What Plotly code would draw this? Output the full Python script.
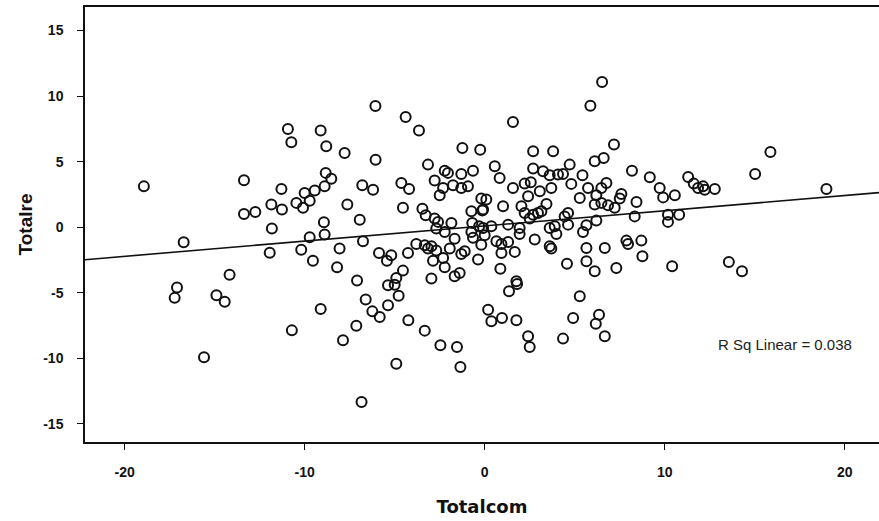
import plotly.graph_objects as go

# ---- data (Totalcom vs Totalre) ----
totalcom = [
    -6.07, -4.39, -10.93, -9.11, -3.65, -10.74, -8.8, -1.24, -0.25,
    6.52, 5.87, 1.57, 7.18,
    2.69, 3.80, 6.61, 6.11, 4.72, 0.56, 2.69, 3.24, 3.61, 4.07, 4.35, 5.43, 8.18, 9.17,
    0.83, 2.22, 2.56, 1.57, 3.7, 4.81, 5.74, 6.48, 6.76, 3.06, 9.72, 9.91, 10.56, 7.59,
    7.5, 6.2, 6.11, 6.48, 6.85, 7.22, 5.28, 8.43, 0.09, 1.02, 2.41, 2.04, 2.22, 2.69,
    2.96, 3.15, 3.43, 2.5, 4.63, 4.44, 4.63, 3.89, 3.61, 3.98, 5.65, 6.2, 5.46, 8.33,
    10.18, 10.18, 10.8, -0.09, 0.37, 1.3, 1.94, 1.94, -0.09, 0.0, -0.19, 0.65, 0.93,
    1.3, 0.93, 1.67, 2.78, 3.61, 3.7, 5.65, 6.67, 7.87, 7.96, 8.7, 8.76, 4.57, 5.65,
    6.11, 7.31, 10.41, 0.87, 1.76, 1.8, 1.35, 5.28,
    15.87, 15.02, 11.3, 11.61, 11.85, 12.13, 12.22, 12.78, 18.98, 13.56, 14.29,
    -18.93, -13.37, -11.29, -11.85, -11.26, -13.37, -12.74, -11.82, -16.72, -11.94,
    -14.17, -17.09, -17.22, -14.9, -14.44, -15.59,
    -9.11, -10.71, -7.87, -7.13, -6.61, -6.24, -5.83, -5.37, -4.78, -4.24, -3.33,
    -2.46, -1.54, -1.35, -4.91, -6.84,
    0.19, 0.37, 0.96, 1.76, 2.41, 2.5, 4.35, 4.91, 6.35, 6.17, 6.67,
    -7.78, -6.06, -3.15, -2.22, -2.04, -1.3, -0.65, -2.78, -1.76, -2.31, -1.3, -0.93,
    -2.5, -0.19, -0.74, -0.13, -8.83, -8.52, -8.89, -9.44, -10.0, -9.72, -10.46, -10.09,
    -6.8, -6.2, -4.63, -4.2, -7.63, -4.54, -3.46, -3.28, -6.94, -8.93, -2.78, -2.59,
    -1.85, -2.69, -2.22, -1.67, -0.69, -0.74, -0.31, -0.65, -8.89, -9.72, -6.76, -3.8,
    -10.19, -8.06, -5.87, -5.19, -5.43, -4.26, -3.33, -3.15, -2.96, -2.69, -1.94, -2.31,
    -2.87, -1.3, -1.11, -0.37, -9.54, -8.2, -4.54, -2.22, -1.39, -1.67, -4.91, -7.09,
    -2.96, -5.37, -5.0,
]
totalre = [
    9.24, 8.41, 7.49, 7.37, 7.37, 6.47, 6.17, 6.04, 5.9,
    11.08, 9.27, 8.03, 6.3,
    5.79, 5.79, 5.28, 5.02, 4.77, 4.64, 4.47, 4.26, 3.96, 4.01, 4.06, 3.96, 4.31, 3.80,
    3.75, 3.32, 3.42, 2.99, 2.99, 3.3, 2.99, 2.99, 3.37, 2.73, 2.99, 2.27, 2.43, 2.53,
    2.18, 2.43, 1.72, 1.85, 1.66, 1.47, 2.23, 1.92, 2.1, 1.59, 2.35, 1.59, 1.08, 0.95,
    1.08, 1.21, 1.77, 0.65, 1.08, 0.82, 0.19, 0.06, -0.06, -0.52, 0.14, 0.5, -0.37, 0.82,
    0.95, 0.4, 0.95, 1.34, 0.06, 0.19, -0.06, -0.52, -0.06, -0.62, -1.34, -1.08, -1.28,
    -1.13, -1.97, -1.89, -0.95, -1.46, -1.64, -1.59, -1.59, -1.03, -1.28, -1.03, -2.23, -2.79, -2.61,
    -3.37, -3.12, -2.99, -3.17, -4.14, -4.34, -4.9, -5.28,
    5.74, 4.06, 3.83, 3.32, 2.99, 3.11, 2.86, 2.91, 2.91, -2.66, -3.37,
    3.11, 3.57, 2.91, 1.72, 1.34, 1.01, 1.16, -0.11, -1.16, -1.95,
    -3.63, -4.6, -5.4, -5.2, -5.7, -9.94,
    -6.25, -7.88, -8.64, -7.52, -5.53, -6.43, -6.86, -5.97, -5.23, -7.11, -7.9,
    -9.02, -9.15, -10.67, -10.42, -13.34,
    -6.3, -7.19, -6.93, -7.11, -8.33, -9.15, -8.51, -6.93, -6.68, -7.37, -8.33,
    5.66, 5.15, 4.77, 4.31, 4.14, 4.06, 4.31, 3.55, 3.19, 2.99, 2.99, 3.11,
    2.43, 2.18, 1.21, 1.26, 4.14, 3.7, 3.11, 2.79, 2.61, 2.02, 1.85, 1.47,
    3.19, 2.86, 3.37, 2.91, 1.72, 1.47, 1.41, 0.9, 0.57, 0.37, 0.65, 0.4,
    0.32, -0.11, -0.37, -0.88, 0.32, -0.37, 0.06, -0.82, -0.57, -0.78, -1.08, -1.28,
    -1.72, -1.64, -1.97, -2.15, -2.56, -1.97, -1.39, -1.64, -1.46, -1.79, -1.64, -2.35,
    -2.56, -2.05, -1.85, -2.48, -2.56, -3.07, -3.32, -3.07, -3.5, -3.75, -3.88, -4.08,
    -3.93, -4.44, -4.39,
]

x_range = [-22.2, 21.9]
y_range = [-16.4, 16.8]
x_ticks = [-20, -10, 0, 10, 20]
x_ticktext = ["-20", "-10", "0", "10", "20"]
y_ticks = [-15, -10, -5, 0, 5, 10, 15]
y_ticktext = ["-15", "-10", "-5", "0", "5", "10", "15"]

# fitted linear trend as shown in the reference
fit_slope = 0.116
fit_intercept = 0.09
r2_label = "R Sq Linear = 0.038"

fit_x = x_range
fit_y = [fit_intercept + fit_slope * v for v in fit_x]

fig = go.Figure()
fig.add_trace(go.Scatter(
    x=fit_x, y=fit_y, mode="lines",
    line=dict(color="#111111", width=1.6),
    hoverinfo="skip", showlegend=False,
))
fig.add_trace(go.Scatter(
    x=totalcom, y=totalre, mode="markers",
    marker=dict(symbol="circle-open", size=10, color="#111111",
                line=dict(width=2, color="#111111")),
    showlegend=False,
))

fig.add_annotation(
    x=16.7, y=-8.95, text=r2_label, showarrow=False,
    font=dict(family="Liberation Sans, Arial", size=15, color="#222222"),
)

tick_font = dict(family="Liberation Sans, Arial", size=14, color="#111111", weight="bold")

fig.update_xaxes(
    range=x_range, tickvals=x_ticks, ticktext=x_ticktext,
    ticks="outside", ticklen=6, tickwidth=1.2,
    tickcolor="#111111", showline=True, linecolor="#111111", linewidth=1.5,
    mirror=True, showgrid=False, zeroline=False, tickfont=tick_font,
    ticklabelstandoff=10,
    title=dict(text="Totalcom", standoff=22,
               font=dict(family="DejaVu Sans", size=18, color="#111111", weight="bold")),
)
fig.update_yaxes(
    range=y_range, tickvals=y_ticks, ticktext=y_ticktext,
    ticks="outside", ticklen=6, tickwidth=1.2,
    tickcolor="#111111", showline=True, linecolor="#111111", linewidth=1.5,
    showgrid=False, zeroline=False, tickfont=tick_font,
    ticklabelstandoff=11,
    title=dict(text="Totalre", standoff=6,
               font=dict(family="Liberation Sans, Arial", size=19, color="#111111", weight="bold")),
)

fig.update_layout(
    width=879, height=521,
    margin=dict(l=85, r=0, t=7, b=79),
    paper_bgcolor="white", plot_bgcolor="white",
)

fig.write_html(
    "out.html",
    config={"displayModeBar": False},
    post_script="document.body.style.margin='0';document.body.style.overflow='hidden';",
)
